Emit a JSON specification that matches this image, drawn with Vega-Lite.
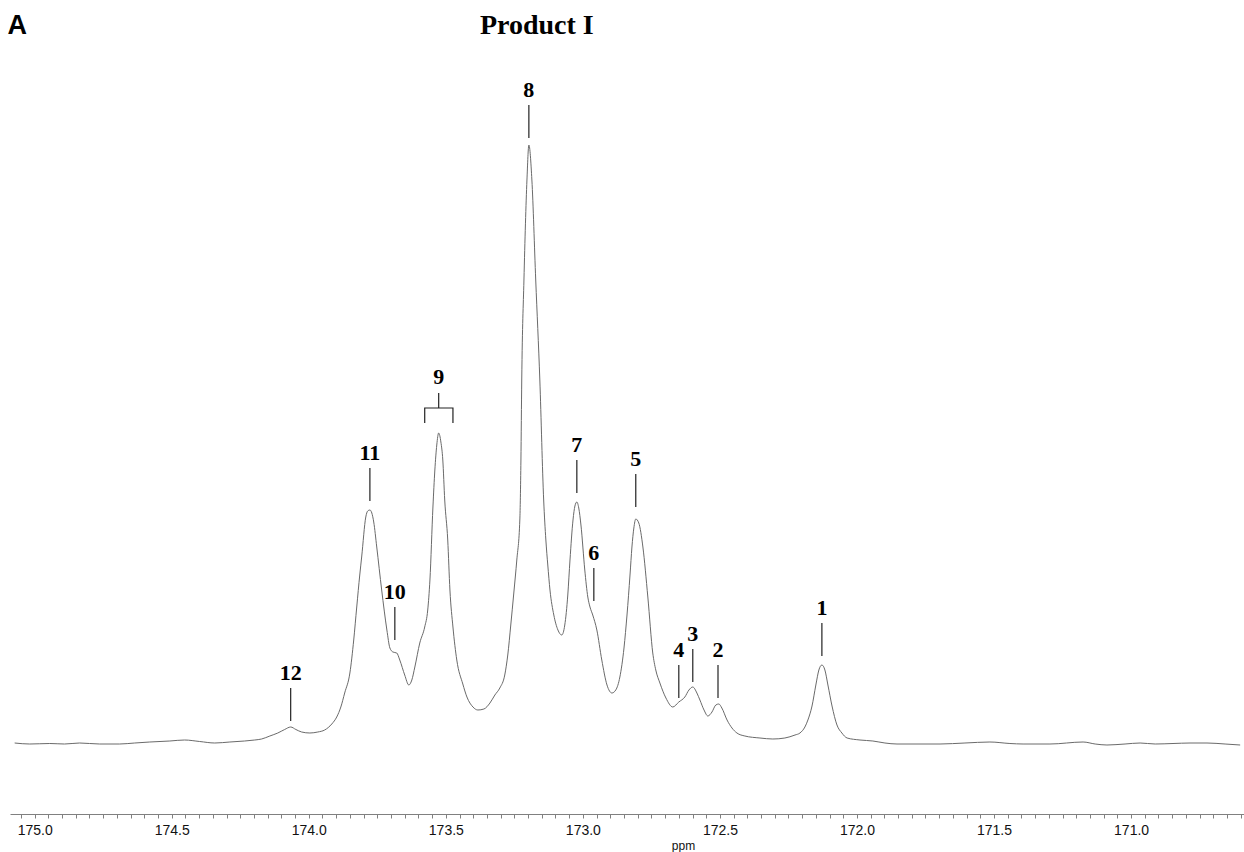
{
  "$schema": "https://vega.github.io/schema/vega-lite/v6.json",
  "autosize": {"type": "none"},
  "width": 1234,
  "height": 741,
  "padding": {"left": 10, "top": 73, "right": 0, "bottom": 38},
  "background": "white",
  "datasets": {
    "spectrum": [
      {"ppm": 175.073, "i": 1}, {"ppm": 175.018, "i": 0}, {"ppm": 174.945, "i": 0.5}, {"ppm": 174.891, "i": 0},
      {"ppm": 174.836, "i": 1}, {"ppm": 174.763, "i": 0}, {"ppm": 174.690, "i": 0}, {"ppm": 174.635, "i": 1},
      {"ppm": 174.580, "i": 2}, {"ppm": 174.507, "i": 3}, {"ppm": 174.453, "i": 4}, {"ppm": 174.398, "i": 2.5},
      {"ppm": 174.343, "i": 1}, {"ppm": 174.288, "i": 2}, {"ppm": 174.234, "i": 3}, {"ppm": 174.197, "i": 4},
      {"ppm": 174.172, "i": 5}, {"ppm": 174.142, "i": 8}, {"ppm": 174.113, "i": 11}, {"ppm": 174.088, "i": 14.5},
      {"ppm": 174.066, "i": 17}, {"ppm": 174.047, "i": 14.5}, {"ppm": 174.026, "i": 12}, {"ppm": 173.996, "i": 11},
      {"ppm": 173.967, "i": 12}, {"ppm": 173.942, "i": 14}, {"ppm": 173.916, "i": 20}, {"ppm": 173.898, "i": 27},
      {"ppm": 173.883, "i": 37}, {"ppm": 173.869, "i": 51}, {"ppm": 173.850, "i": 71}, {"ppm": 173.836, "i": 104},
      {"ppm": 173.825, "i": 137}, {"ppm": 173.814, "i": 169}, {"ppm": 173.807, "i": 187}, {"ppm": 173.792, "i": 227},
      {"ppm": 173.785, "i": 233}, {"ppm": 173.777, "i": 234}, {"ppm": 173.770, "i": 231}, {"ppm": 173.763, "i": 222},
      {"ppm": 173.752, "i": 197}, {"ppm": 173.734, "i": 154}, {"ppm": 173.715, "i": 114}, {"ppm": 173.704, "i": 96},
      {"ppm": 173.693, "i": 92}, {"ppm": 173.679, "i": 91}, {"ppm": 173.668, "i": 84}, {"ppm": 173.650, "i": 69},
      {"ppm": 173.635, "i": 59}, {"ppm": 173.624, "i": 64}, {"ppm": 173.613, "i": 77}, {"ppm": 173.595, "i": 101},
      {"ppm": 173.577, "i": 117}, {"ppm": 173.566, "i": 134}, {"ppm": 173.558, "i": 164}, {"ppm": 173.547, "i": 237},
      {"ppm": 173.540, "i": 274}, {"ppm": 173.533, "i": 299}, {"ppm": 173.526, "i": 311}, {"ppm": 173.518, "i": 302},
      {"ppm": 173.511, "i": 284}, {"ppm": 173.504, "i": 244}, {"ppm": 173.493, "i": 204}, {"ppm": 173.485, "i": 154},
      {"ppm": 173.474, "i": 117}, {"ppm": 173.460, "i": 84}, {"ppm": 173.438, "i": 60}, {"ppm": 173.423, "i": 47},
      {"ppm": 173.401, "i": 37}, {"ppm": 173.383, "i": 34}, {"ppm": 173.361, "i": 35}, {"ppm": 173.339, "i": 41},
      {"ppm": 173.321, "i": 49}, {"ppm": 173.303, "i": 56}, {"ppm": 173.285, "i": 69}, {"ppm": 173.274, "i": 89},
      {"ppm": 173.263, "i": 119}, {"ppm": 173.252, "i": 151}, {"ppm": 173.241, "i": 184}, {"ppm": 173.230, "i": 224},
      {"ppm": 173.226, "i": 284}, {"ppm": 173.223, "i": 364}, {"ppm": 173.215, "i": 464}, {"ppm": 173.204, "i": 564},
      {"ppm": 173.197, "i": 599}, {"ppm": 173.186, "i": 564}, {"ppm": 173.172, "i": 464}, {"ppm": 173.157, "i": 364},
      {"ppm": 173.143, "i": 244}, {"ppm": 173.135, "i": 204}, {"ppm": 173.128, "i": 179}, {"ppm": 173.120, "i": 154},
      {"ppm": 173.106, "i": 129}, {"ppm": 173.091, "i": 114}, {"ppm": 173.077, "i": 109}, {"ppm": 173.066, "i": 119},
      {"ppm": 173.055, "i": 149}, {"ppm": 173.047, "i": 184}, {"ppm": 173.036, "i": 224}, {"ppm": 173.029, "i": 238},
      {"ppm": 173.022, "i": 242}, {"ppm": 173.015, "i": 236}, {"ppm": 173.007, "i": 219}, {"ppm": 172.993, "i": 174},
      {"ppm": 172.982, "i": 147}, {"ppm": 172.974, "i": 137}, {"ppm": 172.964, "i": 129}, {"ppm": 172.949, "i": 114},
      {"ppm": 172.931, "i": 84}, {"ppm": 172.912, "i": 59}, {"ppm": 172.894, "i": 51}, {"ppm": 172.880, "i": 54},
      {"ppm": 172.865, "i": 67}, {"ppm": 172.850, "i": 96}, {"ppm": 172.839, "i": 129}, {"ppm": 172.828, "i": 169},
      {"ppm": 172.821, "i": 197}, {"ppm": 172.814, "i": 216}, {"ppm": 172.807, "i": 225}, {"ppm": 172.796, "i": 221},
      {"ppm": 172.781, "i": 197}, {"ppm": 172.763, "i": 147}, {"ppm": 172.745, "i": 91}, {"ppm": 172.734, "i": 74},
      {"ppm": 172.719, "i": 61}, {"ppm": 172.697, "i": 46}, {"ppm": 172.672, "i": 37}, {"ppm": 172.650, "i": 42},
      {"ppm": 172.628, "i": 47}, {"ppm": 172.613, "i": 54}, {"ppm": 172.599, "i": 57}, {"ppm": 172.584, "i": 51},
      {"ppm": 172.573, "i": 44}, {"ppm": 172.558, "i": 34}, {"ppm": 172.544, "i": 28}, {"ppm": 172.529, "i": 32},
      {"ppm": 172.515, "i": 39}, {"ppm": 172.504, "i": 40}, {"ppm": 172.493, "i": 36}, {"ppm": 172.474, "i": 24},
      {"ppm": 172.456, "i": 16}, {"ppm": 172.438, "i": 11}, {"ppm": 172.409, "i": 8}, {"ppm": 172.354, "i": 6},
      {"ppm": 172.307, "i": 5}, {"ppm": 172.263, "i": 6}, {"ppm": 172.226, "i": 9}, {"ppm": 172.208, "i": 11},
      {"ppm": 172.190, "i": 17}, {"ppm": 172.179, "i": 24}, {"ppm": 172.164, "i": 38}, {"ppm": 172.150, "i": 59},
      {"ppm": 172.139, "i": 74}, {"ppm": 172.128, "i": 79}, {"ppm": 172.117, "i": 74}, {"ppm": 172.106, "i": 59},
      {"ppm": 172.091, "i": 38}, {"ppm": 172.073, "i": 19}, {"ppm": 172.055, "i": 11}, {"ppm": 172.036, "i": 6},
      {"ppm": 171.989, "i": 4}, {"ppm": 171.942, "i": 3}, {"ppm": 171.898, "i": 1}, {"ppm": 171.854, "i": 0},
      {"ppm": 171.770, "i": 0}, {"ppm": 171.697, "i": 0}, {"ppm": 171.606, "i": 1}, {"ppm": 171.515, "i": 2},
      {"ppm": 171.442, "i": 0.5}, {"ppm": 171.394, "i": 0}, {"ppm": 171.296, "i": 0}, {"ppm": 171.175, "i": 2},
      {"ppm": 171.131, "i": 0}, {"ppm": 171.088, "i": -1}, {"ppm": 171.022, "i": 0}, {"ppm": 170.967, "i": 1},
      {"ppm": 170.912, "i": 0}, {"ppm": 170.847, "i": 0.5}, {"ppm": 170.785, "i": 1}, {"ppm": 170.723, "i": 1},
      {"ppm": 170.657, "i": 0}, {"ppm": 170.602, "i": -1}
    ],
    "peaks": [
      {"label": "1", "ppm": 172.128, "level": 88},
      {"label": "2", "ppm": 172.507, "level": 46},
      {"label": "3", "ppm": 172.599, "level": 62},
      {"label": "4", "ppm": 172.650, "level": 46},
      {"label": "5", "ppm": 172.807, "level": 237},
      {"label": "6", "ppm": 172.960, "level": 143},
      {"label": "7", "ppm": 173.022, "level": 251},
      {"label": "8", "ppm": 173.197, "level": 606},
      {"label": "10", "ppm": 173.686, "level": 104},
      {"label": "11", "ppm": 173.777, "level": 243},
      {"label": "12", "ppm": 174.066, "level": 23}
    ],
    "bracket": [
      {"ppm": 173.577, "i": 321, "k": 1},
      {"ppm": 173.577, "i": 336, "k": 2},
      {"ppm": 173.474, "i": 336, "k": 3},
      {"ppm": 173.474, "i": 321, "k": 4}
    ],
    "group9": [
      {"label": "9", "ppm": 173.526, "level": 336}
    ],
    "panel": [
      {"label": "A", "ppm": 175.064, "i": 710}
    ],
    "heading": [
      {"label": "Product I", "ppm": 173.168, "i": 710}
    ]
  },
  "encoding": {
    "x": {
      "field": "ppm",
      "type": "quantitative",
      "scale": {"domain": [170.588, 175.09], "reverse": true, "nice": false, "zero": false},
      "axis": {
        "title": "ppm",
        "values": [170.6, 170.65, 170.7, 170.75, 170.8, 170.85, 170.9, 170.95, 171.0, 171.05, 171.1, 171.15, 171.2, 171.25, 171.3, 171.35, 171.4, 171.45, 171.5, 171.55, 171.6, 171.65, 171.7, 171.75, 171.8, 171.85, 171.9, 171.95, 172.0, 172.05, 172.1, 172.15, 172.2, 172.25, 172.3, 172.35, 172.4, 172.45, 172.5, 172.55, 172.6, 172.65, 172.7, 172.75, 172.8, 172.85, 172.9, 172.95, 173.0, 173.05, 173.1, 173.15, 173.2, 173.25, 173.3, 173.35, 173.4, 173.45, 173.5, 173.55, 173.6, 173.65, 173.7, 173.75, 173.8, 173.85, 173.9, 173.95, 174.0, 174.05, 174.1, 174.15, 174.2, 174.25, 174.3, 174.35, 174.4, 174.45, 174.5, 174.55, 174.6, 174.65, 174.7, 174.75, 174.8, 174.85, 174.9, 174.95, 175.0, 175.05],
        "labelExpr": "abs(datum.value * 2 - round(datum.value * 2)) < 0.001 ? format(datum.value, '.1f') : ''",
        "grid": false,
        "domainColor": "#808080",
        "domainWidth": 1,
        "tickColor": "#808080",
        "tickSize": 4,
        "tickWidth": 1,
        "labelFont": "Liberation Sans",
        "labelFontSize": 14,
        "labelColor": "#111",
        "labelPadding": 5,
        "labelFlush": false,
        "labelOverlap": false,
        "titleFont": "Liberation Sans",
        "titleFontSize": 12,
        "titleFontWeight": "normal",
        "titleColor": "#111",
        "titleX": 673,
        "titleY": 35,
        "titleAlign": "center",
        "titleBaseline": "alphabetic"
      }
    }
  },
  "layer": [
    {
      "data": {"name": "spectrum"},
      "mark": {"type": "line", "interpolate": "monotone", "stroke": "#6a6a6a", "strokeWidth": 1},
      "encoding": {
        "y": {"field": "i", "type": "quantitative", "scale": {"domain": [-70, 671], "nice": false, "zero": false}, "axis": null}
      }
    },
    {
      "data": {"name": "peaks"},
      "mark": {"type": "rule", "stroke": "#222", "strokeWidth": 1.2, "y2Offset": -33},
      "encoding": {
        "y": {"field": "level", "type": "quantitative"},
        "y2": {"field": "level"}
      }
    },
    {
      "data": {"name": "peaks"},
      "mark": {"type": "text", "font": "Liberation Serif", "fontSize": 22, "fontWeight": "bold", "color": "#000", "align": "center", "baseline": "middle", "yOffset": -48},
      "encoding": {
        "y": {"field": "level", "type": "quantitative"},
        "text": {"field": "label"}
      }
    },
    {
      "data": {"name": "bracket"},
      "mark": {"type": "line", "stroke": "#222", "strokeWidth": 1.2},
      "encoding": {
        "y": {"field": "i", "type": "quantitative"},
        "order": {"field": "k"}
      }
    },
    {
      "data": {"name": "group9"},
      "mark": {"type": "rule", "stroke": "#222", "strokeWidth": 1.2, "y2Offset": -15},
      "encoding": {
        "y": {"field": "level", "type": "quantitative"},
        "y2": {"field": "level"}
      }
    },
    {
      "data": {"name": "group9"},
      "mark": {"type": "text", "font": "Liberation Serif", "fontSize": 22, "fontWeight": "bold", "color": "#000", "align": "center", "baseline": "middle", "yOffset": -31},
      "encoding": {
        "y": {"field": "level", "type": "quantitative"},
        "text": {"field": "label"}
      }
    },
    {
      "data": {"name": "panel"},
      "mark": {"type": "text", "font": "Liberation Sans", "fontSize": 27, "fontWeight": "bold", "color": "#000", "align": "center", "baseline": "alphabetic"},
      "encoding": {
        "y": {"field": "i", "type": "quantitative"},
        "text": {"field": "label"}
      }
    },
    {
      "data": {"name": "heading"},
      "mark": {"type": "text", "font": "Liberation Serif", "fontSize": 28, "fontWeight": "bold", "color": "#000", "align": "center", "baseline": "alphabetic"},
      "encoding": {
        "y": {"field": "i", "type": "quantitative"},
        "text": {"field": "label"}
      }
    }
  ],
  "config": {
    "view": {"stroke": null}
  }
}
